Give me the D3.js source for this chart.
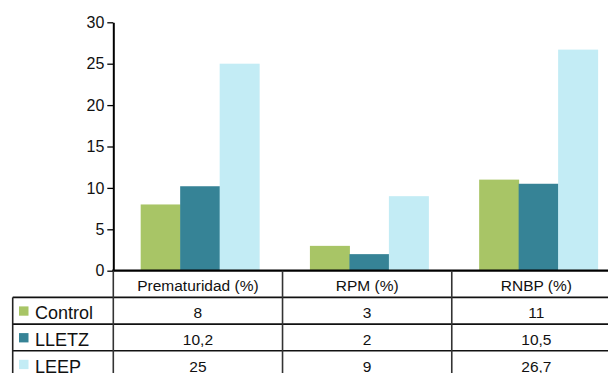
<!DOCTYPE html>
<html><head><meta charset="utf-8">
<script src="https://cdn.jsdelivr.net/npm/d3@7"></script>
<style>html,body{margin:0;padding:0;background:#fff;overflow:hidden}</style>
</head><body>
<svg id="c" width="608" height="373"></svg>
<script>
const categories = ["Prematuridad (%)", "RPM (%)", "RNBP (%)"];
const seriesNames = ["Control", "LLETZ", "LEEP"];
const controlValues = [8, 3, 11];
const lletzValues = [10.2, 2, 10.5];
const leepValues = [25, 9, 26.7];
const valueLabels = [["8","3","11"],["10,2","2","10,5"],["25","9","26,7"]];
const yTicks = [0, 5, 10, 15, 20, 25, 30];
const colors = ["#a8c566", "#368396", "#c3ecf5"];

const values = [controlValues, lletzValues, leepValues];
const svg = d3.select("#c");
const font = "'Liberation Sans', Arial, Helvetica, sans-serif";

const left = 113.3, right = 621, y0px = 270.7, ytop = 22.3;
const x0 = d3.scaleBand().domain(categories).range([left, right]).padding(0);
const bw = x0.bandwidth();
const x1 = d3.scaleBand().domain(seriesNames).range([bw * 0.15 + 2, bw * 0.85 + 2]).padding(0);
const y = d3.scaleLinear().domain([0, 30]).range([y0px, ytop]);

// bars
const g = svg.append("g");
seriesNames.forEach((s, si) => {
  g.selectAll(null).data(categories).enter().append("rect")
    .attr("x", d => x0(d) + x1(s))
    .attr("width", x1.bandwidth() + 0.5)
    .attr("y", (d, i) => y(values[si][i]))
    .attr("height", (d, i) => y(0) - y(values[si][i]))
    .attr("fill", colors[si]);
});

// y axis
const yAxis = d3.axisLeft(y).tickValues(yTicks).tickSize(6).tickPadding(3).tickSizeOuter(0);
const ya = svg.append("g").attr("transform", `translate(${left},0)`).call(yAxis);
ya.select(".domain").attr("stroke", "#000").attr("stroke-width", 2);
ya.selectAll(".tick line").attr("stroke", "#000").attr("stroke-width", 1.3);
ya.selectAll(".tick text").attr("font-family", font).attr("font-size", 16).attr("fill", "#111");

// table
const rowH = 26.7;
const tableTop = y0px;
const rowsTop = tableTop + rowH;
const tbl = svg.append("g");
tbl.append("line").attr("x1", left - 1).attr("x2", 608).attr("y1", y0px).attr("y2", y0px)
  .attr("stroke", "#000").attr("stroke-width", 2.2);
[0, 1, 2, 3].forEach(i => {
  tbl.append("line").attr("x1", 12.7).attr("x2", 608)
    .attr("y1", rowsTop + i * rowH).attr("y2", rowsTop + i * rowH)
    .attr("stroke", "#111").attr("stroke-width", 1.6);
});
tbl.append("line").attr("x1", 12.7).attr("x2", 12.7).attr("y1", rowsTop).attr("y2", 373)
  .attr("stroke", "#222").attr("stroke-width", 1.6);
categories.forEach((c, i) => {
  const xl = x0(c);
  tbl.append("line").attr("x1", xl).attr("x2", xl).attr("y1", y0px).attr("y2", 373)
    .attr("stroke", "#333").attr("stroke-width", 1.6);
});
tbl.selectAll(null).data(categories).enter().append("text")
  .attr("x", d => x0(d) + bw / 2).attr("y", tableTop + 20.3)
  .attr("text-anchor", "middle").attr("font-family", font).attr("font-size", 15.5).attr("fill", "#111")
  .text(d => d);
seriesNames.forEach((s, si) => {
  const ty = rowsTop + si * rowH;
  tbl.append("rect").attr("x", 19).attr("y", ty + 9).attr("width", 9.5).attr("height", 9.3).attr("fill", colors[si]);
  tbl.append("text").attr("x", 35).attr("y", ty + 22)
    .attr("font-family", font).attr("font-size", 18).attr("fill", "#111").text(s);
  tbl.selectAll(null).data(categories).enter().append("text")
    .attr("x", d => x0(d) + bw / 2).attr("y", ty + 21)
    .attr("text-anchor", "middle").attr("font-family", font).attr("font-size", 15.5).attr("fill", "#111")
    .text((d, i) => valueLabels[si][i]);
});
</script>
</body></html>
